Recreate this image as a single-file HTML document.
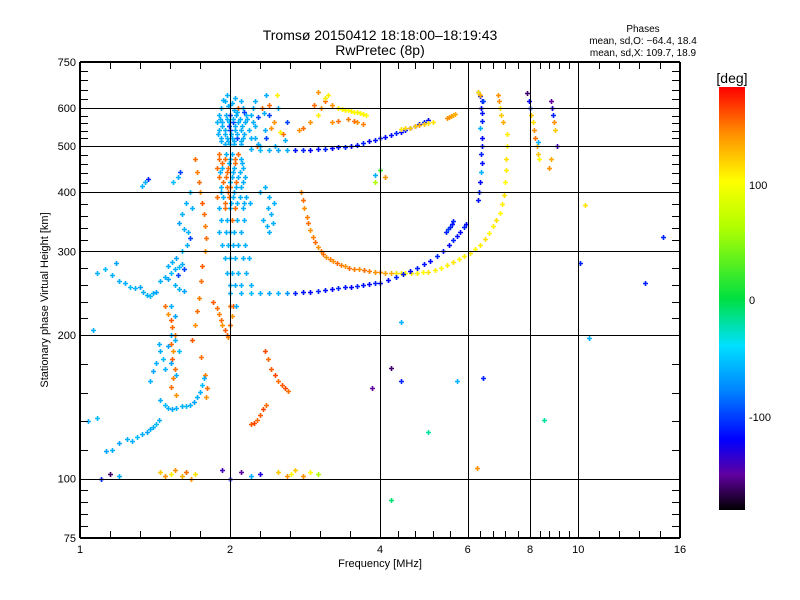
<!DOCTYPE html>
<html><head><meta charset="utf-8"><style>
body{margin:0;background:#fff}
svg{display:block;font-family:"Liberation Sans",sans-serif}
</style></head><body>
<svg id="chart" width="800" height="600" viewBox="0 0 800 600">
<defs>
<linearGradient id="cbar" x1="0" y1="1" x2="0" y2="0">
<stop offset="0" stop-color="#000000"/><stop offset="0.083" stop-color="#6000a0"/><stop offset="0.167" stop-color="#0000ff"/><stop offset="0.278" stop-color="#0080ff"/><stop offset="0.389" stop-color="#00e0ff"/><stop offset="0.5" stop-color="#00e040"/><stop offset="0.667" stop-color="#b0ff00"/><stop offset="0.778" stop-color="#ffff00"/><stop offset="0.889" stop-color="#ff9000"/><stop offset="1" stop-color="#ff0000"/>
</linearGradient>
</defs>
<text x="380" y="40" text-anchor="middle" font-size="14">Tromsø 20150412 18:18:00–18:19:43</text>
<text x="380" y="55" text-anchor="middle" font-size="14">RwPretec (8p)</text>
<text x="643" y="32" text-anchor="middle" font-size="10">Phases</text>
<text x="643" y="44" text-anchor="middle" font-size="10">mean, sd,O: −64.4, 18.4</text>
<text x="643" y="56" text-anchor="middle" font-size="10">mean, sd,X: 109.7, 18.9</text>
<g id="marks"></g>
<g id="axes"></g>
<rect x="719" y="87" width="26" height="423" fill="url(#cbar)"/>
<text x="732" y="83" text-anchor="middle" font-size="14">[deg]</text>
<text x="749" y="189" font-size="11">100</text>
<text x="749" y="304" font-size="11">0</text>
<text x="749" y="421" font-size="11">-100</text>
<text x="380" y="567" text-anchor="middle" font-size="11">Frequency [MHz]</text>
<text transform="translate(48,300) rotate(-90)" text-anchor="middle" font-size="11">Stationary phase Virtual Height [km]</text>
</svg>
<script>
const xTickLabels=[1,2,4,6,8,10,16];
const yTickLabels=[75,100,200,300,400,500,600,750];
const gridX=[2,4,6,8,10];
const gridY=[100,200,300,400,500,600];

const fO_f=[2.78,2.8,2.82,2.85,2.87,2.9,2.93,2.96,3.0,3.04,3.08,3.12,3.17,3.22,3.28,3.34,3.4,3.47,3.55,3.63,3.72,3.8,3.9,4.0,4.1,4.2,4.3,4.4,4.5,4.62,4.75,4.88,5.0,5.15,5.3,5.45,5.6,5.75,5.9,6.05,6.2,6.35,6.5,6.62,6.75,6.85,6.95,7.02,7.08,7.12,7.15,7.17,7.18,7.19];
const fO_h=[400,385,370,355,345,333,322,314,306,300,296,292,289,286,283,281,279,277,276,275,274,273,272,271,270,270,270,270,270,270,270,271,272,274,277,281,285,289,293,297,303,310,318,328,340,350,362,378,395,420,445,470,500,530];
const fO_p=[145,150,140,145,150,140,145,150,140,145,150,140,145,140,150,145,140,150,145,140,150,145,140,140,135,130,110,105,100,110,105,100,110,105,100,105,110,100,105,110,100,105,110,100,105,110,100,105,110,100,105,110,100,105];

const fX_f=[2.0,2.1,2.2,2.3,2.4,2.5,2.6,2.7,2.8,2.9,3.0,3.1,3.2,3.3,3.4,3.5,3.6,3.7,3.8,3.9,4.0,4.15,4.3,4.45,4.6,4.75,4.9,5.05,5.2,5.35,5.5,5.6,5.7,5.8,5.9,5.95,5.42,5.47,5.52,5.57,5.6];
const fX_h=[245,245,245,245,245,245,245,245,246,247,248,249,250,251,252,253,254,255,256,257,258,261,265,269,273,277,282,287,293,301,310,317,323,330,337,342,330,334,338,342,348];
const fX_p=[-60,-60,-55,-60,-65,-60,-70,-110,-115,-120,-110,-115,-120,-110,-115,-120,-110,-115,-120,-110,-115,-120,-110,-115,-120,-110,-115,-120,-110,-115,-120,-110,-115,-120,-110,-115,-110,-100,-110,-115,-110];

const fXv_f=[6.3,6.32,6.35,6.37,6.4,6.38,6.42,6.4,6.36,6.4,6.42,6.38,6.4,6.35,6.3];
const fXv_h=[385,400,420,440,460,480,500,520,545,565,585,600,620,635,650];
const fXv_p=[-115,-110,-120,-60,-115,-110,-115,-120,-60,-110,-115,-120,-110,-115,-110];

const fF1_f=[2.2,2.3,2.4,2.5,2.6,2.7,2.8,2.9,3.0,3.1,3.2,3.3,3.4,3.5,3.6,3.7,3.8,3.9,4.0,4.1,4.2,4.3,4.4,4.5,4.6,4.7,4.8,4.9,5.0,4.4,4.5,4.6,4.7,4.8,4.9,5.0,5.1,5.45,5.5,5.55,5.6,5.65];
const fF1_h=[492,491,490,490,490,490,490,491,492,493,494,496,498,500,503,507,511,515,519,523,527,531,535,539,544,549,555,561,567,542,544,546,549,552,555,558,561,572,575,578,581,584];
const fF1_p=[-60,-55,-60,-65,-60,-115,-110,-120,-115,-110,-120,-115,-110,-120,-115,-110,-120,-115,-110,-120,-115,-110,-120,-115,-110,-120,-115,-110,-120,110,115,120,120,130,120,110,110,140,140,135,130,130];

const fUp_f=[2.75,2.8,2.9,3.0,3.05,3.1,3.15,3.2,3.3,3.35,3.4,3.45,3.5,3.55,3.6,3.65,3.7,3.75,3.2,3.3,3.45,3.55,3.6,3.7,2.95,3.0,3.1];
const fUp_h=[540,545,560,580,600,620,640,610,600,598,596,594,592,590,588,586,584,580,560,565,570,565,560,555,610,650,630];
const fUp_p=[140,150,140,105,140,150,105,140,105,100,105,100,105,100,105,100,105,100,140,150,145,150,140,145,150,140,105];

const fR_f=[6.3,6.35,6.45,6.9,6.92,6.95,7.0,7.05,7.9,7.95,8.0,8.05,8.1,8.15,8.2,8.25,8.3,8.3,8.35,8.8,8.85,8.9,8.95,9.0,9.05,8.75,8.8];
const fR_h=[650,640,620,640,620,600,580,560,645,620,600,580,560,540,520,500,480,510,470,620,600,580,560,540,500,450,470];
const fR_p=[110,130,-100,140,140,110,120,130,-160,-120,-100,120,110,140,150,130,120,-60,100,-150,-130,-110,140,120,-140,140,130];

const leftA_f=[1.06,1.08,1.12,1.16,1.18,1.2,1.23,1.26,1.29,1.32,1.34,1.36,1.38,1.4,1.42];
const leftA_h=[205,270,275,268,283,260,258,252,251,252,247,243,242,245,246];
const leftA_p=[-60,-60,-55,-60,-65,-60,-60,-55,-60,-65,-60,-60,-55,-60,-65];

const leftB_f=[1.45,1.48,1.5,1.52,1.55,1.57,1.5,1.53,1.56,1.58,1.6,1.62,1.55,1.58,1.62,1.6,1.64,1.66,1.62,1.65,1.58,1.54,1.57,1.59,1.35,1.37,1.33,1.52,1.55,1.6,1.63,1.66,1.68];
const leftB_h=[260,265,262,270,275,268,280,285,290,278,282,275,255,250,248,300,310,320,335,330,345,420,430,440,420,425,412,230,220,360,380,400,370];
const leftB_p=[-60,-60,-65,-55,-60,-100,-60,-60,-65,-55,-60,-100,-60,-60,-65,-55,-60,-100,-60,-60,-65,-55,-60,-100,-60,-110,-60,-60,-65,-60,-60,-55,-60];

const leftC_f=[1.48,1.5,1.52,1.53,1.55,1.52,1.54,1.53,1.55,1.54,1.52,1.56,1.7,1.72,1.73,1.74,1.76,1.77,1.78,1.79,1.78,1.76,1.75,1.73,1.72,1.7,1.68,1.75,1.78,1.8,1.79,1.85,1.88,1.9,1.92,1.93,1.95,1.97,1.98,2.0,2.02,2.03];
const leftC_h=[230,222,215,208,200,192,185,178,170,163,156,150,470,440,420,400,380,360,340,320,300,280,260,240,225,210,195,180,165,155,148,235,228,222,215,210,205,200,198,210,220,230];
const leftC_p=[150,140,155,150,145,150,140,155,150,145,150,140,150,145,150,140,155,150,145,150,140,155,150,145,150,140,155,150,145,150,140,155,150,145,150,140,155,150,145,150,140,155];

const leftD_f=[1.45,1.48,1.5,1.53,1.56,1.6,1.63,1.66,1.69,1.72,1.74,1.76,1.77,1.2,1.24,1.27,1.3,1.33,1.36,1.38,1.4,1.42,1.44,1.13,1.16,1.04,1.08,1.38,1.4,1.42,1.45,1.47,1.44,1.5,1.52,1.55,1.58,1.48,1.52,1.56];
const leftD_h=[146,143,141,140,141,142,142,143,145,148,152,157,163,119,121,120,122,124,125,127,128,130,133,114,115,132,134,160,168,175,185,178,192,190,200,195,185,170,175,165];
const leftD_p=[-60,-55,-60,-65,-60,-60,-55,-60,-65,-60,-60,-55,-60,-65,-60,-60,-55,-60,-65,-60,-60,-55,-60,-65,-60,-60,-55,-60,-65,-60,-60,-55,-60,-65,-60,-60,-55,-60,-65,-60];

const cloud_f=[1.97,2.05,1.95,2.02,2.1,2.08,1.92,1.98,2.04,2.12,1.9,1.96,2.0,2.06,2.15,2.2,1.88,1.93,1.99,2.03,2.08,2.14,2.22,1.9,1.95,2.0,2.05,2.1,2.18,1.92,1.97,2.02,2.07,2.12,2.2,2.25,1.95,2.0,2.04,2.1,1.9,1.95,2.0,2.05,2.1,1.88,1.93,1.98,2.04,2.12,1.9,1.96,2.02,2.08,2.14,1.92,1.97,2.0,2.06,2.1,1.88,1.94,1.99,2.03,2.09,2.15,1.9,1.95,2.0,2.05,2.12,1.92,1.97,2.02,2.07,2.13,1.9,1.96,2.0,2.04,2.1,1.93,1.98,2.03,2.08,2.14,1.95,2.0,2.05,2.12,2.18,1.97,2.02,2.08,2.15,2.0,2.05,2.1,2.2,2.0,2.06,2.3,2.35,2.4,2.45,2.38,2.42,2.33,2.37,2.44,2.4,2.25,2.32,2.4,2.45,2.5,2.55,2.6,2.35,2.48,2.58];
const cloud_h=[640,630,620,615,620,600,600,605,595,600,580,580,580,580,580,580,560,560,560,560,560,560,560,540,540,540,540,540,540,520,520,520,520,520,520,520,505,505,505,505,470,470,470,470,470,450,450,450,450,450,430,430,430,430,430,410,410,410,410,410,390,390,390,390,390,390,370,370,370,370,370,350,350,350,350,350,330,330,330,330,330,310,310,310,310,310,290,290,290,290,290,270,270,270,270,255,255,255,255,230,230,400,410,390,380,370,360,350,340,345,330,620,600,580,560,600,530,560,540,640,515];
const cloud_p=[-60,-60,-60,-60,-60,150,-60,-60,-60,-60,-60,-60,-100,-60,-60,-60,-60,-60,-60,-100,-60,-60,-60,-60,-60,-100,-60,-60,-60,-60,-60,-60,-100,-60,-60,-60,-60,-60,-60,-60,150,150,-60,150,-60,150,-60,150,-60,-60,150,150,-60,-60,-60,-60,150,150,-60,-60,150,-60,150,-60,-60,-60,-60,150,-60,150,-60,-60,-60,150,-60,-60,-60,-60,-60,-60,-60,-60,-60,-60,-60,-60,-60,-60,-60,-60,-60,-60,-60,-60,-60,-60,-60,-60,-60,150,-60,-60,-60,-60,-60,-60,-60,-60,-60,-60,-60,-60,150,-100,140,-60,150,-100,-60,105,-60];

const cloud2_f=[1.94,2.0,2.07,2.13,1.91,1.97,2.03,2.09,2.16,1.93,1.99,2.05,2.11,1.89,1.95,2.01,2.07,2.13,1.92,1.98,2.04,2.1,1.9,1.96,2.02,2.08,1.93,1.99,2.05,2.11,1.91,1.97,2.03,2.09,1.94,2.0,2.06,2.12,1.92,1.98,2.04,1.95,2.01,2.07,2.13,2.19,2.24,2.28,2.22,2.27,2.3,2.36,2.42,2.34,2.4,2.46,2.52,2.28,2.36];
const cloud2_h=[625,610,590,590,570,570,570,570,570,550,550,550,550,530,530,530,530,530,512,512,512,512,480,480,480,480,460,460,460,460,440,440,440,440,420,420,420,420,400,400,400,380,380,380,380,380,550,575,600,500,500,520,545,585,610,500,535,505,640];
const cloud2_p=[-60,-60,-60,-100,-60,-60,-60,-60,-60,-60,-100,-60,-60,-60,-60,-60,-60,-60,-60,-60,-60,-60,150,-60,-60,150,150,-60,150,-60,-60,150,-60,-60,150,-60,150,-60,-60,150,-60,150,-60,-60,-60,-60,-60,-100,-60,150,-60,-100,140,-60,150,-60,105,-60,-60];

const low_f=[2.35,2.38,2.42,2.46,2.5,2.54,2.58,2.62,2.2,2.23,2.27,2.3,2.33,2.36];
const low_h=[185,178,170,165,160,157,155,153,130,131,133,136,140,143];
const low_p=[160,150,155,160,150,155,160,150,155,160,150,155,160,150];

const bottom_f=[1.45,1.48,1.52,1.55,1.6,1.63,1.67,1.7,1.93,2.0,2.1,2.2,2.3,2.5,2.6,2.65,2.7,2.8,2.9,3.0,1.15,1.1,1.2];
const bottom_h=[103,101,102,104,101,103,100,102,104,100,103,101,102,103,101,102,104,101,103,102,102,100,101];
const bottom_p=[120,140,105,140,130,150,140,110,-140,-120,-150,-60,-130,120,140,100,120,140,100,60,-160,-110,-60];

const iso_f=[10.3,14.8,13.6,10.1,10.5,8.55,4.4,4.2,4.4,3.85,4.2,5.7,6.45,6.25,5.0,4.1,3.9,3.9,4.0];
const iso_h=[375,322,257,284,197,133,213,171,160,155,90,160,163,105,125,430,435,420,445];
const iso_p=[110,-110,-110,-110,-60,-20,-60,-160,-110,-150,-10,-60,-110,140,-20,140,-60,60,20];

const NS='http://www.w3.org/2000/svg';
const X0=80,X1=680,Y0=538,Y1=62;
function fx(f){return X0+(X1-X0)*Math.log2(f)/4;}
function hy(h){return Y0-(Y0-Y1)*Math.log10(h/75);}
const cmap=[[-180,[0,0,0]],[-150,[96,0,160]],[-120,[0,0,255]],[-80,[0,128,255]],[-40,[0,224,255]],[0,[0,224,64]],[60,[176,255,0]],[100,[255,255,0]],[140,[255,144,0]],[180,[255,0,0]]];
function color(p){
  for(let i=1;i<cmap.length;i++){
    if(p<=cmap[i][0]){const a=cmap[i-1],b=cmap[i];const t=(p-a[0])/(b[0]-a[0]);
      const c=a[1].map((v,k)=>Math.round(v+(b[1][k]-v)*t));return 'rgb('+c.join(',')+')';}
  }
  return 'rgb(255,0,0)';
}
const marks=document.getElementById('marks');
function plot(fs,hs,ps,name){
  const g=document.createElementNS(NS,'g');
  
  
  for(let i=0;i<fs.length;i++){
    const x=Math.round(fx(fs[i]))+0.5,y=Math.round(hy(hs[i]))+0.5;
    const p=document.createElementNS(NS,'path');
    p.setAttribute('d','M'+(x-2.5)+' '+y+'h5M'+x+' '+(y-2.5)+'v5');
    p.setAttribute('stroke',color(ps[i]));
    p.setAttribute('stroke-width','1.6');
    
    
    g.appendChild(p);
  }
  marks.appendChild(g);
}
plot(fO_f,fO_h,fO_p,'f2-o-trace');
plot(fX_f,fX_h,fX_p,'f2-x-trace');
plot(fXv_f,fXv_h,fXv_p,'x-vertical-trace');
plot(fF1_f,fF1_h,fF1_p,'f1-trace');
plot(fUp_f,fUp_h,fUp_p,'upper-echoes');
plot(fR_f,fR_h,fR_p,'right-echoes');
plot(leftA_f,leftA_h,leftA_p,'left-horizontal-echoes');
plot(leftB_f,leftB_h,leftB_p,'left-cluster-echoes');
plot(leftC_f,leftC_h,leftC_p,'orange-chain-echoes');
plot(leftD_f,leftD_h,leftD_p,'lower-curve-echoes');
plot(cloud_f,cloud_h,cloud_p,'dense-column-echoes');
plot(cloud2_f,cloud2_h,cloud2_p,'dense-column-echoes-2');
plot(low_f,low_h,low_p,'low-orange-echoes');
plot(bottom_f,bottom_h,bottom_p,'bottom-row-echoes');
plot(iso_f,iso_h,iso_p,'isolated-echoes');

const axes=document.getElementById('axes');
function line(x1,y1,x2,y2,w,name){
  const l=document.createElementNS(NS,'line');
  l.setAttribute('x1',x1);l.setAttribute('y1',y1);l.setAttribute('x2',x2);l.setAttribute('y2',y2);
  l.setAttribute('stroke','#000');l.setAttribute('stroke-width',w);
  
  
  axes.appendChild(l);
}
function text(x,y,s,anchor,name){
  const t=document.createElementNS(NS,'text');
  t.setAttribute('x',x);t.setAttribute('y',y);t.setAttribute('text-anchor',anchor);t.setAttribute('font-size','11');
  t.textContent=s;
  
  
  axes.appendChild(t);
}
gridX.forEach(v=>line(Math.round(fx(v))+0.5,Y1,Math.round(fx(v))+0.5,Y0,1,'x-grid-line'));
gridY.forEach(v=>line(X0,Math.round(hy(v))+0.5,X1,Math.round(hy(v))+0.5,1,'y-grid-line'));
for(let i=0;i<xTickLabels.length-1;i++){
  const a=fx(xTickLabels[i]),b=fx(xTickLabels[i+1]);
  for(let k=1;k<5;k++){const x=Math.round(a+(b-a)*k/5)+0.5;
    line(x,Y0,x,Y0-7,1,'x-minor-tick');line(x,Y1,x,Y1+7,1,'x-minor-tick');}
}
for(let i=0;i<yTickLabels.length-1;i++){
  const a=hy(yTickLabels[i]),b=hy(yTickLabels[i+1]);
  for(let k=1;k<5;k++){const y=Math.round(a+(b-a)*k/5)+0.5;
    line(X0,y,X0+8,y,1,'y-minor-tick');line(X1,y,X1-8,y,1,'y-minor-tick');}
}
line(X0,Y1,X1,Y1,2,'plot-top-border');line(X0,Y0,X1,Y0,2,'plot-bottom-border');
line(X0,Y1,X0,Y0,2,'plot-left-border');line(X1,Y1,X1,Y0,2,'plot-right-border');
xTickLabels.forEach(v=>text(fx(v),553,String(v),'middle','x-tick-label'));
yTickLabels.forEach(v=>text(76,hy(v)+4,String(v),'end','y-tick-label'));
</script>
</body></html>
